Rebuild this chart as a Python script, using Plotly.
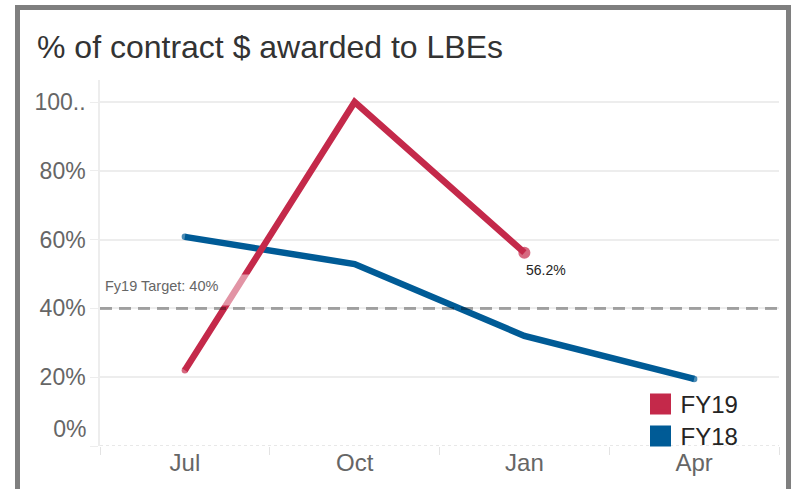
import plotly.graph_objects as go

months = ["Jul", "Oct", "Jan", "Apr"]
fy19 = [22.0, 100.0, 56.2]
fy18 = [60.8, 52.9, 32.0, 19.5]
TARGET = 40
y_tickvals = [0, 20, 40, 60, 80, 100]
y_ticktext = ["", "20%", "40%", "60%", "80%", "100.."]

RED = "#C4294A"
BLUE = "#005B96"
FONT = "Liberation Sans"
GRID = "#EDEDED"
FRAME = "#7F7F7F"

fig = go.Figure()

# FY18 line
fig.add_trace(go.Scatter(
    x=months, y=fy18, mode="lines+markers", showlegend=False,
    line=dict(color=BLUE, width=6.5),
    marker=dict(color=BLUE, size=[6.5, 0, 0, 6.5], line=dict(width=0)),
    hoverinfo="skip",
))
# FY19 line
fig.add_trace(go.Scatter(
    x=months[:len(fy19)], y=fy19, mode="lines+markers", showlegend=False,
    line=dict(color=RED, width=6.5),
    marker=dict(color=RED, size=[6.5] + [0] * (len(fy19) - 2) + [12], line=dict(width=0)),
    hoverinfo="skip",
))
# legend entries (one legend each for exact spacing)
for name, col, lg in [("FY19", RED, "legend"), ("FY18", BLUE, "legend2")]:
    fig.add_trace(go.Scatter(
        x=[None], y=[None], mode="markers", name=name, legend=lg,
        marker=dict(symbol="square", size=16, color=col, line=dict(color=col, width=5)),
    ))

yr = [0, 106.4]
legfont = dict(family=FONT, size=24, color="#252423")

frame_lines = [
    (-0.1215, 1.198, 1.014, 1.198),   # top
    (-0.1215, -0.2, -0.1215, 1.205),  # left
    (1.014, -0.2, 1.014, 1.205),      # right
]

fig.update_layout(
    width=792, height=489,
    margin=dict(l=100, r=13, t=80, b=43),
    paper_bgcolor="white", plot_bgcolor="white",
    font=dict(family=FONT, color="#666666"),
    title=dict(text="% of contract $ awarded to LBEs", x=0.0467, xref="container",
               xanchor="left", y=0.905, yanchor="middle",
               font=dict(family=FONT, size=32, color="#333333")),
    xaxis=dict(type="category", categoryorder="array", categoryarray=months,
               range=[-0.5, len(months) - 0.5],
               showgrid=False, zeroline=False, showline=False,
               ticks="outside", tickson="boundaries", ticklen=8, tickcolor="#E3E3E3",
               tickfont=dict(family=FONT, size=24, color="#666666")),
    yaxis=dict(range=yr, tickvals=y_tickvals, ticktext=y_ticktext,
               showgrid=True, gridcolor=GRID, gridwidth=1.5, zeroline=False,
               showline=True, linecolor=GRID, linewidth=1.5,
               ticks="outside", ticklen=8, tickcolor=GRID,
               tickfont=dict(family=FONT, size=23, color="#666666")),
    yaxis2=dict(range=yr, overlaying="y", side="left", tickvals=[5], ticktext=["0%"],
                showgrid=False, zeroline=False, showline=False,
                ticks="outside", ticklen=8, tickcolor="rgba(0,0,0,0)",
                tickfont=dict(family=FONT, size=23, color="#666666")),
    legend=dict(x=0.796, xanchor="left", y=0.1134, yanchor="middle",
                bgcolor="rgba(0,0,0,0)", font=legfont),
    legend2=dict(x=0.796, xanchor="left", y=0.026, yanchor="middle",
                 bgcolor="rgba(0,0,0,0)", font=legfont),
    shapes=[
        dict(type="line", xref="paper", x0=0, x1=1, yref="y", y0=0, y1=0,
             line=dict(color="#D0D0D0", width=1, dash="dot"), layer="above"),
        dict(type="line", xref="paper", x0=0, x1=1, yref="y", y0=TARGET, y1=TARGET,
             line=dict(color="rgba(0,0,0,0.33)", width=3, dash="12px,7px"), layer="above"),
    ] + [
        dict(type="line", xref="paper", yref="paper", x0=a, y0=b, x1=c, y1=d,
             line=dict(color=FRAME, width=5), layer="above")
        for a, b, c, d in frame_lines
    ],
    annotations=[
        dict(text=f"Fy19 Target: {TARGET}%", xref="paper", x=0, xanchor="left",
             yref="y", y=TARGET, yanchor="bottom", yshift=2, xshift=1,
             width=146, height=24, align="left", valign="top",
             bgcolor="rgba(255,255,255,0.5)", borderpad=3, showarrow=False,
             font=dict(family=FONT, size=14.5, color="#666666")),
        dict(text=f"{fy19[-1]}%", xref="x", x=months[len(fy19) - 1], xanchor="left",
             yref="y", y=fy19[-1], yanchor="top", yshift=-7, showarrow=False,
             font=dict(family=FONT, size=14, color="#252423")),
    ],
)
# invisible trace to activate yaxis2
fig.add_trace(go.Scatter(x=[months[0]], y=[None], yaxis="y2", showlegend=False, hoverinfo="skip"))

fig.write_html("out.html", config={"displayModeBar": False},
               post_script="document.body.style.margin='0';")
